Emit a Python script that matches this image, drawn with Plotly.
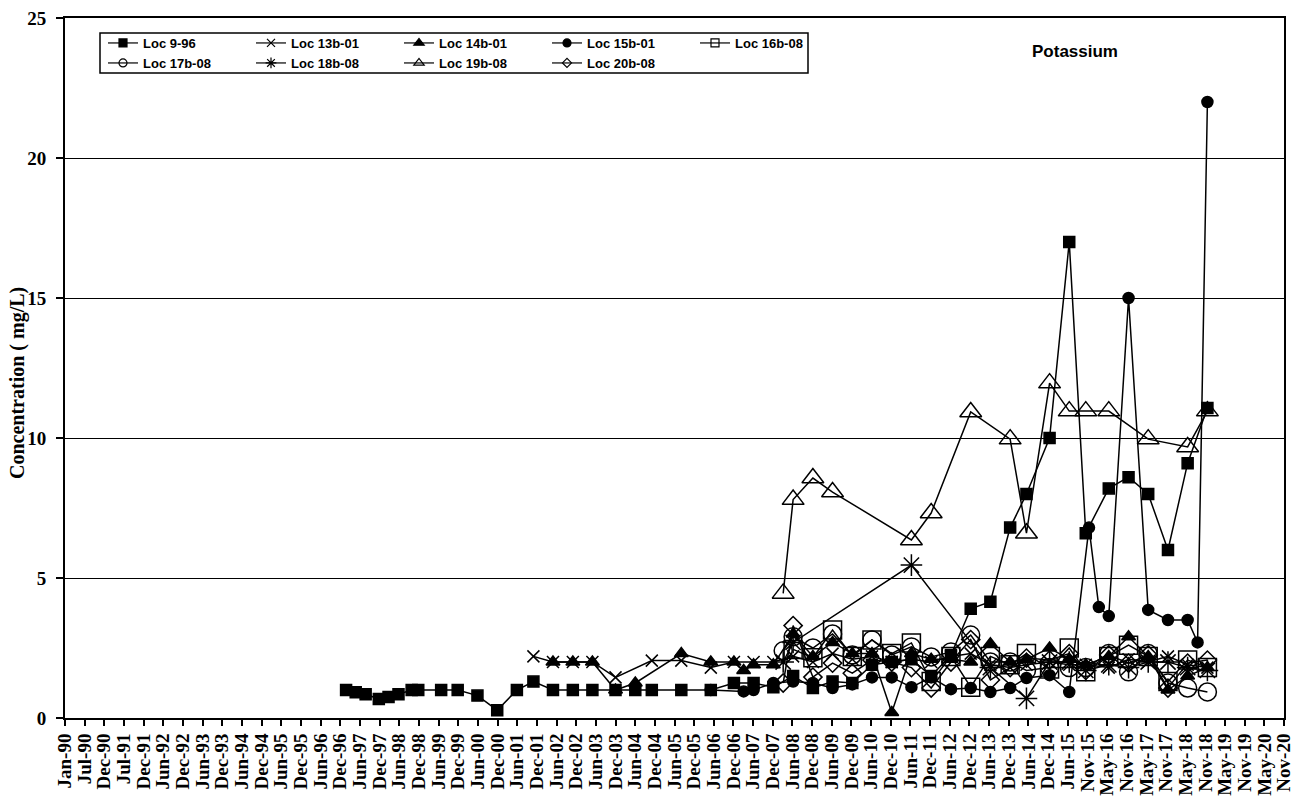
import plotly.graph_objects as go
import pandas as pd

tick_labels = ["Jan-90", "Jul-90", "Dec-90", "Jul-91", "Dec-91", "Jun-92", "Dec-92", "Jun-93", "Dec-93",
               "Jun-94", "Dec-94", "Jun-95", "Dec-95", "Jun-96", "Dec-96", "Jun-97", "Dec-97", "Jun-98",
               "Dec-98", "Jun-99", "Dec-99", "Jun-00", "Dec-00", "Jun-01", "Dec-01", "Jun-02", "Dec-02",
               "Jun-03", "Dec-03", "Jun-04", "Dec-04", "Jun-05", "Dec-05", "Jun-06", "Dec-06", "Jun-07",
               "Dec-07", "Jun-08", "Dec-08", "Jun-09", "Dec-09", "Jun-10", "Dec-10", "Jun-11", "Dec-11",
               "Jun-12", "Dec-12", "Jun-13", "Dec-13", "Jun-14", "Dec-14", "Jun-15", "Nov-15", "May-16",
               "Nov-16", "May-17", "Nov-17", "May-18", "Nov-18", "May-19", "Nov-19", "May-20", "Nov-20"]

loc9_dates = ["1997-02", "1997-05", "1997-08", "1997-12", "1998-03", "1998-06", "1998-10", "1998-12",
              "1999-07", "1999-12", "2000-06", "2000-12", "2001-06", "2001-11", "2002-05", "2002-11",
              "2003-05", "2003-12", "2004-06", "2004-11", "2005-08", "2006-05", "2006-12", "2007-06",
              "2007-12", "2008-06", "2008-12", "2009-06", "2009-12", "2010-06", "2010-12", "2011-06",
              "2011-12", "2012-06", "2012-12", "2013-06", "2013-12", "2014-05", "2014-12", "2015-06",
              "2015-11", "2016-06", "2016-12", "2017-06", "2017-12", "2018-06", "2018-12"]
loc9_vals = [1.0, 0.92, 0.85, 0.68, 0.75, 0.85, 1.0, 1.0, 1.0, 1.0, 0.8, 0.28, 1.0, 1.3, 1.0, 1.0,
             1.0, 1.0, 1.0, 1.0, 1.0, 1.0, 1.25, 1.25, 1.1, 1.5, 1.07, 1.3, 1.25, 1.9, 2.0, 2.1,
             1.5, 2.25, 3.9, 4.15, 6.8, 8.0, 10.0, 17.0, 6.6, 8.2, 8.6, 8.0, 6.0, 9.1, 11.07]

loc13_dates = ["2001-11", "2002-05", "2002-11", "2003-05", "2003-12", "2004-11", "2005-08", "2006-05",
               "2006-12", "2007-06", "2007-12", "2008-06", "2008-12", "2009-06", "2009-12", "2010-06",
               "2010-12", "2011-06", "2011-12", "2012-06", "2012-12", "2013-06", "2013-12", "2014-05",
               "2014-12", "2015-06", "2015-11", "2016-06", "2016-12", "2017-06", "2017-12", "2018-06",
               "2018-12"]
loc13_vals = [2.2, 2.0, 2.0, 2.0, 1.45, 2.05, 2.05, 1.8, 2.0, 2.0, 2.0, 2.2, 2.0, 2.3, 2.1, 2.2,
              2.0, 2.1, 2.0, 2.2, 2.3, 1.9, 1.8, 1.9, 2.0, 1.9, 1.9, 1.8, 2.1, 2.0, 2.2, 1.9, 1.8]

loc14_dates = ["2002-05", "2002-11", "2003-05", "2003-12", "2004-06", "2005-08", "2006-05", "2006-12",
               "2007-03", "2007-06", "2007-12", "2008-06", "2008-12", "2009-06", "2009-12", "2010-06",
               "2010-12", "2011-06", "2011-12", "2012-06", "2012-12", "2013-06", "2013-12", "2014-05",
               "2014-12", "2015-06", "2015-11", "2016-06", "2016-12", "2017-06", "2017-12", "2018-06",
               "2018-12"]
loc14_vals = [2.0, 2.0, 2.0, 1.0, 1.25, 2.3, 2.0, 2.0, 1.7, 1.9, 1.9, 3.0, 2.2, 2.7, 2.3, 2.3,
              0.2, 2.3, 2.1, 2.1, 2.0, 2.65, 2.0, 2.1, 2.5, 2.1, 1.9, 2.2, 2.9, 2.2, 1.0, 1.5, 1.8]

loc15_dates = ["2006-05", "2007-03", "2007-06", "2007-12", "2008-06", "2008-12", "2009-06", "2009-12",
               "2010-06", "2010-12", "2011-06", "2011-12", "2012-06", "2012-12", "2013-06", "2013-12",
               "2014-05", "2014-12", "2015-06", "2015-12", "2016-03", "2016-06", "2016-12", "2017-06",
               "2017-12", "2018-06", "2018-09", "2018-12"]
loc15_vals = [1.0, 0.95, 1.0, 1.25, 1.3, 1.25, 1.07, 1.2, 1.45, 1.45, 1.1, 1.45, 1.03, 1.07, 0.93, 1.07,
              1.43, 1.53, 0.93, 6.8, 3.96, 3.64, 15.0, 3.86, 3.5, 3.5, 2.7, 22.0]

loc16_dates = ["2008-06", "2008-12", "2009-06", "2009-12", "2010-06", "2010-12", "2011-06", "2011-12",
               "2012-06", "2012-12", "2013-06", "2013-12", "2014-05", "2014-12", "2015-06", "2015-11",
               "2016-06", "2016-12", "2017-06", "2017-12", "2018-06", "2018-12"]
loc16_vals = [2.45, 2.15, 3.14, 2.2, 2.79, 2.3, 2.68, 1.3, 2.2, 1.1, 2.2, 1.9, 2.3, 1.75, 2.5, 1.65,
              2.2, 2.6, 2.2, 1.3, 2.07, 1.8]

loc17_dates = ["2008-03", "2008-06", "2008-12", "2009-06", "2009-12", "2010-06", "2010-12", "2011-06",
               "2011-12", "2012-06", "2012-12", "2013-06", "2013-12", "2014-05", "2014-12", "2015-06",
               "2015-11", "2016-06", "2016-12", "2017-06", "2017-12", "2018-06", "2018-12"]
loc17_vals = [2.4, 2.9, 2.5, 3.0, 2.25, 2.79, 2.25, 2.54, 2.18, 2.36, 2.96, 2.0, 2.0, 1.7, 1.8, 1.8,
              1.8, 2.3, 1.65, 2.3, 1.25, 1.07, 0.93]

loc18_dates = ["2008-03", "2008-06", "2011-06", "2013-06", "2014-05", "2014-12", "2015-06", "2015-11",
               "2016-06", "2016-12", "2017-06", "2017-12", "2018-06", "2018-12"]
loc18_vals = [2.0, 2.7, 5.46, 1.8, 0.7, 2.0, 2.0, 1.7, 1.9, 1.8, 2.0, 2.0, 1.8, 1.7]

loc19_dates = ["2008-03", "2008-06", "2008-12", "2009-06", "2011-06", "2011-12", "2012-12", "2013-12",
               "2014-05", "2014-12", "2015-06", "2015-11", "2016-06", "2017-06", "2018-06", "2018-12"]
loc19_vals = [4.45, 7.8, 8.57, 8.07, 6.36, 7.32, 10.93, 9.96, 6.6, 11.96, 10.96, 10.96, 10.96, 9.96,
              9.68, 10.96]

loc20_dates = ["2008-03", "2008-06", "2008-12", "2009-06", "2009-12", "2010-06", "2010-12", "2011-06",
               "2011-12", "2012-06", "2012-12", "2013-06", "2013-12", "2014-05", "2014-12", "2015-06",
               "2015-11", "2016-06", "2016-12", "2017-06", "2017-12", "2018-06", "2018-12"]
loc20_vals = [1.25, 3.3, 1.46, 1.96, 1.6, 2.07, 2.0, 1.8, 1.07, 2.0, 2.8, 1.36, 1.8, 2.14, 2.07, 2.3,
              1.7, 2.25, 1.96, 2.25, 1.07, 1.96, 2.07]


def mid(dates):
    return [d + "-15" for d in dates]


# name, dates, values, symbol, plot size, legend size, legend group
series = [
    ("Loc 9-96", loc9_dates, loc9_vals, "square", 11, 8, "legend"),
    ("Loc 13b-01", loc13_dates, loc13_vals, "x-thin", 12, 8, "legend"),
    ("Loc 14b-01", loc14_dates, loc14_vals, "triangle-up", 12, 9, "legend"),
    ("Loc 15b-01", loc15_dates, loc15_vals, "circle", 11, 8, "legend"),
    ("Loc 16b-08", loc16_dates, loc16_vals, "square-open", 18, 8, "legend"),
    ("Loc 17b-08", loc17_dates, loc17_vals, "circle-open", 18, 8, "legend2"),
    ("Loc 18b-08", loc18_dates, loc18_vals, "asterisk-open", 18, 9, "legend2"),
    ("Loc 19b-08", loc19_dates, loc19_vals, "triangle-up-open", 19, 9, "legend2"),
    ("Loc 20b-08", loc20_dates, loc20_vals, "diamond-open", 14, 7, "legend2"),
]

fig = go.Figure()
for name, d, v, sym, sz, lsz, lg in series:
    fig.add_trace(go.Scatter(
        x=mid(d), y=v, name=name, mode="lines+markers", showlegend=False,
        line=dict(color="black", width=1.5),
        marker=dict(symbol=sym, size=sz, color="black", line=dict(color="black", width=1.5)),
    ))
# legend-only entries with small symbols, as in the original legend
for name, d, v, sym, sz, lsz, lg in series:
    fig.add_trace(go.Scatter(
        x=[None], y=[None], name=name, mode="lines+markers", legend=lg, showlegend=True,
        line=dict(color="black", width=1.2),
        marker=dict(symbol=sym, size=lsz, color="black", line=dict(color="black", width=1.2)),
    ))

start = pd.Timestamp("1990-01-01")
tick_dates = [start + pd.Timedelta(days=182 * k) for k in range(len(tick_labels))]

serif_bold = dict(family="Liberation Serif, Times New Roman, serif", color="black", weight="bold")
sans_bold = dict(family="Liberation Sans, Arial, sans-serif", color="black", weight="bold")

L, R, T, B = 65, 17, 18, 91
W, H = 1301, 809
pw = W - L - R
ph = H - T - B


def px_x(x):
    return (x - L) / pw


def px_y(y):
    return (H - B - y) / ph


leg_common = dict(orientation="h", xanchor="left", yanchor="top",
                  entrywidth=103, entrywidthmode="pixels", itemwidth=30,
                  font=dict(size=13, **sans_bold), bgcolor="rgba(0,0,0,0)", borderwidth=0,
                  tracegroupgap=0)

fig.update_layout(
    width=W, height=H,
    margin=dict(l=L, r=R, t=T, b=B, autoexpand=False),
    paper_bgcolor="white", plot_bgcolor="white",
    showlegend=True,
    legend=dict(x=px_x(103), y=px_y(28), **leg_common),
    legend2=dict(x=px_x(103), y=px_y(48), **leg_common),
    xaxis=dict(type="date", range=[tick_dates[0], tick_dates[-1]],
               tickmode="array", tickvals=tick_dates, ticktext=tick_labels,
               tickangle=-90, tickfont=dict(size=19, **serif_bold),
               ticks="outside", ticklen=6, tickwidth=1.5, tickcolor="black",
               showline=True, linecolor="black", linewidth=2, mirror=True,
               showgrid=False, zeroline=False),
    yaxis=dict(range=[0, 25], tickmode="linear", tick0=0, dtick=5,
               tickfont=dict(size=19, **serif_bold), ticklabelstandoff=6,
               ticks="outside", ticklen=7, tickwidth=1.5, tickcolor="black",
               showline=True, linecolor="black", linewidth=2, mirror=True,
               showgrid=True, gridcolor="black", gridwidth=1.2, zeroline=False),
    shapes=[dict(type="rect", xref="paper", yref="paper",
                 x0=px_x(100), x1=px_x(808), y0=px_y(73), y1=px_y(33),
                 line=dict(color="black", width=1.5), fillcolor="rgba(0,0,0,0)", layer="above")],
    annotations=[
        dict(text="Potassium", xref="paper", yref="paper", x=px_x(1030), y=px_y(51),
             xanchor="left", yanchor="middle", showarrow=False,
             font=dict(size=17, **sans_bold)),
        dict(text="Concentration ( mg/L)", xref="paper", yref="paper", x=px_x(18), y=px_y(383),
             xanchor="center", yanchor="middle", textangle=-90, showarrow=False,
             font=dict(size=20, **serif_bold)),
    ],
)

fig.write_html("out.html", config={"displayModeBar": False},
               post_script="document.body.style.margin='0px';")
